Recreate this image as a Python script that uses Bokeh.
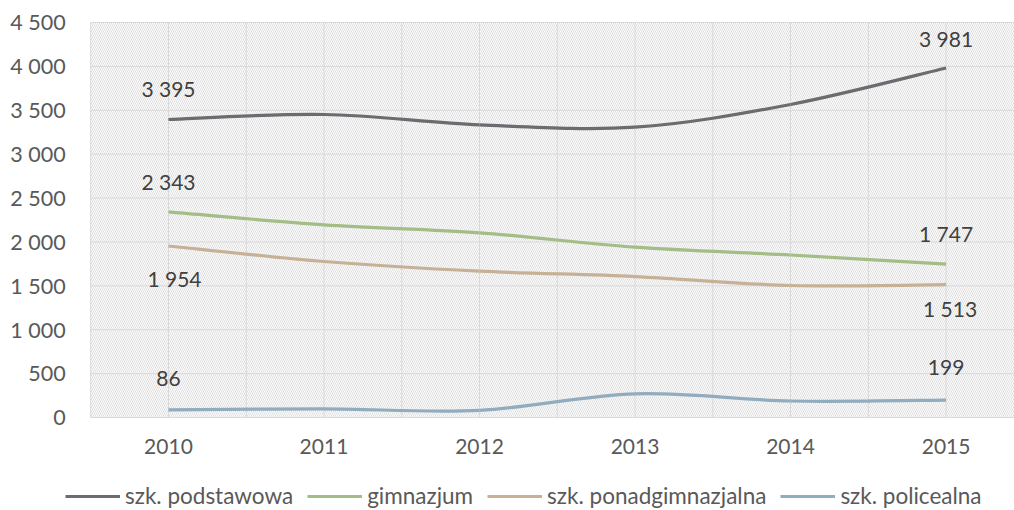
from bokeh.plotting import figure
from bokeh.models import (ColumnDataSource, Range1d, Legend, LegendItem)
from bokeh.core.properties import value
from bokeh.embed import file_html
from bokeh.resources import INLINE

years = [2010, 2011, 2012, 2013, 2014, 2015]
year_labels = ["2010", "2011", "2012", "2013", "2014", "2015"]
podstawowa = [3395, 3452, 3334, 3307, 3566, 3981]
gimnazjum = [2343, 2195, 2104, 1940, 1851, 1747]
ponadgimnazjalna = [1954, 1777, 1667, 1606, 1504, 1513]
policealna = [86, 98, 82, 270, 188, 199]
series_names = ["szk. podstawowa", "gimnazjum", "szk. ponadgimnazjalna", "szk. policealna"]
y_ticks = [0, 500, 1000, 1500, 2000, 2500, 3000, 3500, 4000, 4500]

colors = ["#6b6b70", "#a3bd86", "#c6b197", "#91abbf"]
FONT = "Lato"
GRID = "#d9d9d9"


def fmt(v):
    return f"{v:,}".replace(",", " ")


# one frame covering the whole canvas; the plotting area (2009.5.., 0..4500) sits inside it
p = figure(width=1014, height=510, output_backend="svg", toolbar_location=None,
           x_range=Range1d(2008.92, 2015.44), y_range=Range1d(-1059.5, 4750.6),
           x_axis_location=None, y_axis_location=None, min_border=0)
p.outline_line_color = None
p.background_fill_color = "white"
p.border_fill_color = "white"
p.xgrid.visible = False
p.ygrid.visible = False

x_left = years[0] - 0.5
x_right = years[-1] + 1.5

# hatched plot background
p.quad(left=[x_left], right=[x_right], bottom=[y_ticks[0]], top=[y_ticks[-1]], fill_alpha=0,
       line_alpha=0, hatch_pattern="\\", hatch_color="#dedede", hatch_scale=4,
       hatch_weight=1, level="image")

# grid lines
half_ticks = [x_left] + [v for yr in years for v in (yr, yr + 0.5)]
p.segment(x0=half_ticks, y0=[y_ticks[0]] * len(half_ticks), x1=half_ticks,
          y1=[y_ticks[-1]] * len(half_ticks), line_color=GRID, line_width=1, level="underlay")
p.segment(x0=[x_left] * len(y_ticks), y0=y_ticks, x1=[x_right] * len(y_ticks), y1=y_ticks,
          line_color=GRID, line_width=1, level="underlay")

# tick labels
p.text(x=[x_left] * len(y_ticks), y=y_ticks, text=[fmt(v) for v in y_ticks], x_offset=-25,
       text_align="right", text_baseline="middle", text_font=value(FONT),
       text_font_size="21.5px", text_color="#595959")
p.text(x=years, y=[y_ticks[0]] * len(years), text=year_labels, y_offset=29,
       text_align="center", text_baseline="middle", text_font=value(FONT),
       text_font_size="21px", text_color="#595959")

all_series = [podstawowa, gimnazjum, ponadgimnazjalna, policealna]
items = []
t = 1.0 / 6.0
for name, vals, col in zip(series_names, all_series, colors):
    n = len(vals)
    x0, y0, x1, y1, cx0, cy0, cx1, cy1 = [], [], [], [], [], [], [], []
    for i in range(n - 1):
        pm = max(i - 1, 0)
        pp = min(i + 2, n - 1)
        x0.append(years[i]); y0.append(vals[i])
        x1.append(years[i + 1]); y1.append(vals[i + 1])
        cx0.append(years[i] + (years[i + 1] - years[pm]) * t)
        cy0.append(vals[i] + (vals[i + 1] - vals[pm]) * t)
        cx1.append(years[i + 1] - (years[pp] - years[i]) * t)
        cy1.append(vals[i + 1] - (vals[pp] - vals[i]) * t)
    src = ColumnDataSource(dict(x0=x0, y0=y0, x1=x1, y1=y1, cx0=cx0, cy0=cy0, cx1=cx1, cy1=cy1))
    r = p.bezier(x0="x0", y0="y0", x1="x1", y1="y1", cx0="cx0", cy0="cy0", cx1="cx1", cy1="cy1",
                 source=src, line_color=col, line_width=3.2)
    items.append(LegendItem(label=name, renderers=[r], index=0))

# data labels (first and last point of each series)
label_offsets = [(-31, -30), (-30, -31), (33, 24), (-31, -33)]
label_xoff = [(0, 0), (0, 0), (6, 4), (0, 0)]
lx, ly, lt, lyo, lxo = [], [], [], [], []
for vals, yo, xo in zip(all_series, label_offsets, label_xoff):
    for idx, o, ox in ((0, yo[0], xo[0]), (-1, yo[1], xo[1])):
        lx.append(years[idx]); ly.append(vals[idx]); lt.append(fmt(vals[idx]))
        lyo.append(o); lxo.append(ox)
lsrc = ColumnDataSource(dict(x=lx, y=ly, text=lt, yo=lyo, xo=lxo))
p.text(x="x", y="y", text="text", source=lsrc, y_offset="yo", x_offset="xo",
       text_align="center", text_baseline="middle", text_font=value(FONT),
       text_font_size="21px", text_color="#404040")

legend = Legend(items=items, orientation="horizontal", location=(65, 1),
                label_text_font=FONT, label_text_font_size="22.5px", label_text_color="#595959",
                glyph_width=55, glyph_height=22, label_standoff=5, spacing=14,
                padding=0, margin=0, border_line_color=None, background_fill_alpha=0)
p.add_layout(legend, "center")

open("out.html", "w").write(file_html(p, INLINE))
